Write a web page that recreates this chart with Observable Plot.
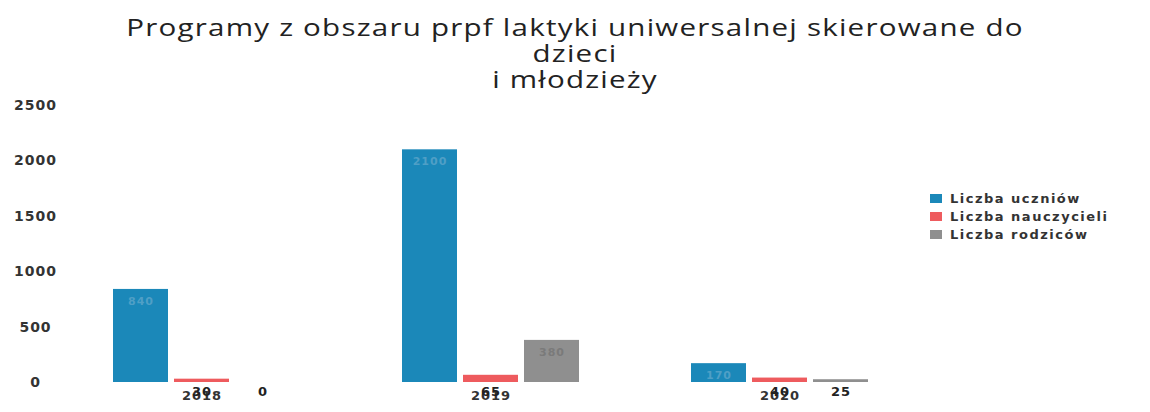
<!DOCTYPE html>
<html>
<head>
<meta charset="utf-8">
<script src="https://cdn.jsdelivr.net/npm/d3@7"></script>
<script src="https://cdn.jsdelivr.net/npm/@observablehq/plot@0.6"></script>
<style>
  body { margin: 0; background: #fff; }
  #wrap { position: relative; width: 1150px; height: 412px; overflow: hidden; }
  #title { position: absolute; left: 0; top: 14px; width: 1150px; text-align: center;
    font-family: "Open Sans", sans-serif; font-size: 24px; line-height: 26px; color: #222; letter-spacing: 1px;
    transform: scaleX(1.23); transform-origin: 575px 0; }
  #chart { position: absolute; left: 0; top: 95px; }
  #legend { position: absolute; left: 930px; top: 190px; font-family: "DejaVu Sans", sans-serif;
    font-size: 13px; font-weight: bold; color: #333; letter-spacing: 1.5px; }
  #legend div { height: 18px; line-height: 18px; white-space: nowrap; }
  #legend span.sw { display: inline-block; width: 12px; height: 9px; margin-right: 8px; vertical-align: 0px; }
</style>
</head>
<body>
<div id="wrap">
  <div id="title"></div>
  <div id="chart"></div>
  <div id="legend"></div>
</div>
<script>
const titleLines = ["Programy z obszaru prpf laktyki uniwersalnej skierowane do", "dzieci", "i młodzieży"];
const years = ["2018", "2019", "2020"];
const series = ["Liczba uczniów", "Liczba nauczycieli", "Liczba rodziców"];
const colors = ["#1b88b9", "#ee5b5e", "#8f8f8f"];
const uczniowie = [840, 2100, 170];
const nauczyciele = [30, 65, 40];
const rodzice = [0, 380, 25];
const yTicks = [0, 500, 1000, 1500, 2000, 2500];

document.getElementById("title").innerHTML = titleLines.join("<br>");

const values = [uczniowie, nauczyciele, rodzice];
const data = [];
years.forEach((y, i) => series.forEach((s, j) => data.push({year: y, series: s, value: values[j][i]})));
const big = data.filter(d => d.value >= 100);
const small = data.filter(d => d.value < 100);

const chart = Plot.plot({
  width: 1150,
  height: 317,
  marginLeft: 60,
  marginRight: 230,
  marginTop: 10,
  marginBottom: 30,
  style: {fontFamily: "DejaVu Sans, sans-serif", fontSize: "13px", fontWeight: "bold", color: "#333", letterSpacing: "1px"},
  fx: {domain: years, paddingInner: 0.34, paddingOuter: 0.153, label: null, tickSize: 0, tickPadding: 8},
  x: {domain: series, padding: 0.1, axis: null},
  y: {domain: [0, 2500], label: null, axis: null},
  color: {domain: series, range: colors},
  marks: [
    Plot.axisY({ticks: yTicks, tickFormat: d => String(d), tickSize: 0, tickPadding: 71, textAnchor: "middle", label: null, fontSize: 14}),
    Plot.barY(data, {fx: "year", x: "series", y: "value", fill: "series"}),
    Plot.text(big, {fx: "year", x: "series", y: "value", text: d => String(d.value), dy: 12,
      fill: d => d.series === series[2] ? "#7a7a7a" : "#4f9fc6", fontSize: 11}),
    Plot.text(small, {fx: "year", x: "series", y: 0, text: d => String(d.value), dy: 9,
      fill: "#222", fontSize: 13, fontWeight: "bold"})
  ]
});
document.getElementById("chart").appendChild(chart);

const lg = document.getElementById("legend");
series.forEach((s, i) => {
  const row = document.createElement("div");
  row.innerHTML = `<span class="sw" style="background:${colors[i]}"></span>${s}`;
  lg.appendChild(row);
});
</script>
</body>
</html>
